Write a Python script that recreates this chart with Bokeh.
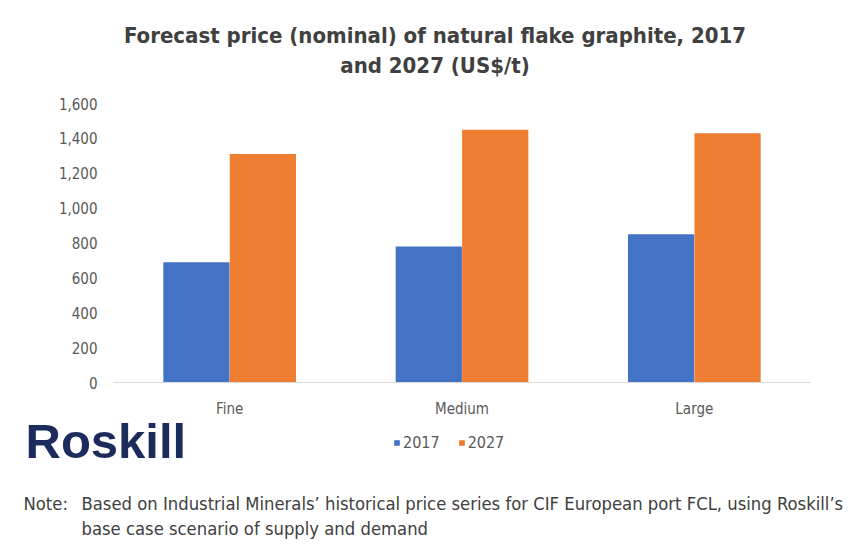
from bokeh.plotting import figure
from bokeh.models import (ColumnDataSource, FixedTicker, NumeralTickFormatter, Label, Range1d)
from bokeh.transform import dodge
from bokeh.embed import file_html
from bokeh.resources import INLINE

categories = ["Fine", "Medium", "Large"]
series_names = ["2017", "2027"]
values_2017 = [690, 780, 850]
values_2027 = [1310, 1450, 1430]
y_ticks = [0, 200, 400, 600, 800, 1000, 1200, 1400, 1600]

title_lines = ["Forecast price (nominal) of natural flake graphite, 2017", "and 2027 (US$/t)"]
note_label = "Note:"
note_lines = ["Based on Industrial Minerals\u2019 historical price series for CIF European port FCL, using Roskill\u2019s",
              "base case scenario of supply and demand"]
logo_text = "Roskill"

BLUE = "#4472C4"
ORANGE = "#ED7D31"
FONT = "DejaVu Sans Condensed"
W, H = 855, 546

# plot-area geometry in page pixels (left, right, top of 1600, baseline of 0)
PA_L, PA_R, PA_T, PA_B = 113, 810, 103, 382
n = len(categories)
x_ppu = (PA_R - PA_L) / n
y_ppu = (PA_B - PA_T) / y_ticks[-1]
x_range = Range1d(-PA_L / x_ppu, n + (W - PA_R) / x_ppu)
y_range = Range1d(-(H - PA_B) / y_ppu, y_ticks[-1] + PA_T / y_ppu)

x_pos = [i + 0.5 for i in range(n)]
src = ColumnDataSource(dict(x=x_pos, cat=categories, v2017=values_2017, v2027=values_2027))

p = figure(width=W, height=H, x_range=x_range, y_range=y_range,
           output_backend="svg", toolbar_location=None,
           min_border=0, min_border_left=0, min_border_right=0,
           min_border_top=0, min_border_bottom=0)
p.outline_line_color = None
p.grid.visible = False
p.background_fill_color = "white"
p.border_fill_color = "white"

p.vbar(x=dodge("x", -0.143), top="v2017", width=0.285, source=src,
       fill_color=BLUE, line_color=None, legend_label=series_names[0])
p.vbar(x=dodge("x", 0.143), top="v2027", width=0.285, source=src,
       fill_color=ORANGE, line_color=None, legend_label=series_names[1])

# y axis, pinned at the left edge of the category band
p.yaxis.fixed_location = 0
p.yaxis.ticker = FixedTicker(ticks=y_ticks)
p.yaxis.formatter = NumeralTickFormatter(format="0,0")
p.yaxis.axis_line_color = None
p.yaxis.major_tick_line_color = None
p.yaxis.minor_tick_line_color = None
p.yaxis.major_tick_out = 0
p.yaxis.major_tick_in = 0
p.yaxis.minor_tick_out = 0
p.yaxis.major_label_text_font = FONT
p.yaxis.major_label_text_font_size = "15px"
p.yaxis.major_label_text_color = "#595959"
p.yaxis.major_label_standoff = 16

# x axis, pinned at value 0
p.xaxis.fixed_location = 0
p.xaxis.bounds = (0, n)
p.xaxis.ticker = FixedTicker(ticks=x_pos)
p.xaxis.major_label_overrides = {x: c for x, c in zip(x_pos, categories)}
p.xaxis.axis_line_color = "#d9d9d9"
p.xaxis.major_tick_line_color = None
p.xaxis.minor_tick_line_color = None
p.xaxis.major_tick_out = 0
p.xaxis.major_tick_in = 0
p.xaxis.minor_tick_out = 0
p.xaxis.major_label_text_font = FONT
p.xaxis.major_label_text_font_size = "15px"
p.xaxis.major_label_text_color = "#595959"
p.xaxis.major_label_standoff = 17

lg = p.legend[0]
lg.orientation = "horizontal"
lg.location = (393, 94)
lg.glyph_width = 7
lg.glyph_height = 7
lg.label_standoff = 3
lg.spacing = 18
lg.padding = 0
lg.margin = 0
lg.border_line_color = None
lg.background_fill_alpha = 0
lg.label_text_font = FONT
lg.label_text_font_size = "16px"
lg.label_text_color = "#595959"
lg.label_height = 16

for txt, y in zip(title_lines, [511, 481.5]):
    p.add_layout(Label(x=434.5, y=y, x_units="screen", y_units="screen", text=txt,
                       text_font=FONT, text_font_style="bold", text_font_size="22px",
                       text_color="#404040", text_align="center", text_baseline="middle"))

p.add_layout(Label(x=25, y=105.5, x_units="screen", y_units="screen", text=logo_text,
                   text_font="Liberation Sans", text_font_style="bold", text_font_size="49px",
                   text_color="#1b2b5c", text_align="left", text_baseline="middle"))

p.add_layout(Label(x=23, y=43.5, x_units="screen", y_units="screen", text=note_label,
                   text_font=FONT, text_font_size="18.3px", text_color="#404040",
                   text_align="left", text_baseline="middle"))
for txt, y in zip(note_lines, [43.5, 18.5]):
    p.add_layout(Label(x=81, y=y, x_units="screen", y_units="screen", text=txt,
                       text_font=FONT, text_font_size="18.3px", text_color="#404040",
                       text_align="left", text_baseline="middle"))

open("out.html", "w").write(file_html(p, INLINE))
